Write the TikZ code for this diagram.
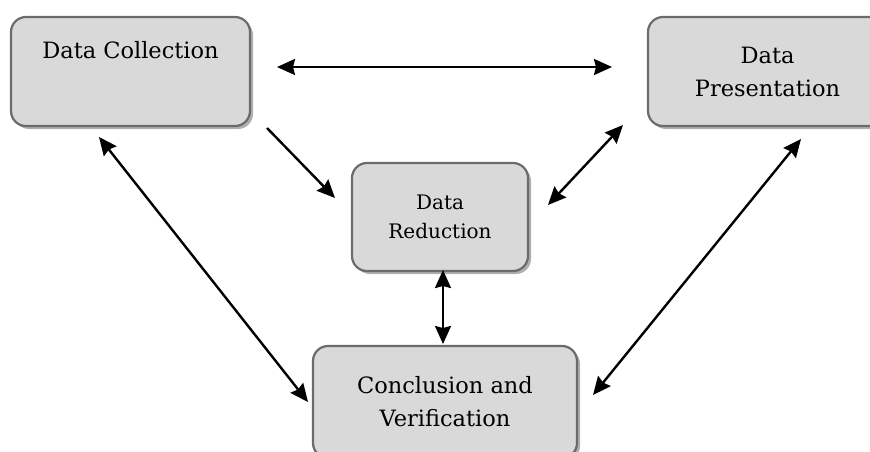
\documentclass[tikz,border=0pt]{standalone}
\usepackage{fontspec}
\setmainfont{DejaVu Serif}
\usetikzlibrary{shadows,arrows.meta}
\definecolor{boxfill}{HTML}{D9D9D9}
\definecolor{boxborder}{HTML}{6B6B6B}
\definecolor{shadowgray}{HTML}{A6A6A6}
\begin{document}
\begin{tikzpicture}[x=1pt,y=-1pt,
  box/.style={draw=boxborder, line width=2.2pt, fill=boxfill, rounded corners=15pt,
    drop shadow={shadow xshift=3pt, shadow yshift=-3pt, fill=shadowgray, opacity=0.9},
    align=center, inner sep=0pt},
  bigtext/.style={font=\fontsize{22.5}{33}\selectfont},
  smalltext/.style={font=\fontsize{20}{29}\selectfont},
  conn/.style={line width=2.4pt, -{Stealth[length=18pt,width=16pt,inset=2pt]}},
  bconn/.style={line width=2.4pt, {Stealth[length=18pt,width=16pt,inset=2pt]}-{Stealth[length=18pt,width=16pt,inset=2pt]}}]
\useasboundingbox (0,0) rectangle (870,451);
\begin{scope}
\clip (0,0) rectangle (870,451);
\node[box, bigtext, minimum width=239pt, minimum height=109pt, text height=17pt, text depth=44pt] (dc) at (130.5,71.5) {Data Collection};
\node[box, bigtext, minimum width=239pt, minimum height=109pt] (dp) at (767.5,71.5) {Data\\Presentation};
\node[box, smalltext, minimum width=176pt, minimum height=108pt] (dr) at (440,217) {Data\\Reduction};
\node[box, bigtext, minimum width=264pt, minimum height=112pt] (cv) at (445,402) {Conclusion and\\Verification};
\end{scope}
% connector end points
\coordinate (h1) at (277,67);
\coordinate (h2) at (612,67);
\coordinate (a1) at (267,128);
\coordinate (a2) at (335,198);
\coordinate (b1) at (623,125);
\coordinate (b2) at (548,205);
\coordinate (c1) at (99,137);
\coordinate (c2) at (308,402);
\coordinate (d1) at (801,139);
\coordinate (d2) at (593,395);
\coordinate (v1) at (443,270);
\coordinate (v2) at (443,344);
\draw[bconn] (h1) -- (h2);
\draw[conn] (a1) -- (a2);
\draw[bconn] (b1) -- (b2);
\draw[bconn] (c1) -- (c2);
\draw[bconn] (d1) -- (d2);
\draw[bconn] (v1) -- (v2);
\end{tikzpicture}
\end{document}
